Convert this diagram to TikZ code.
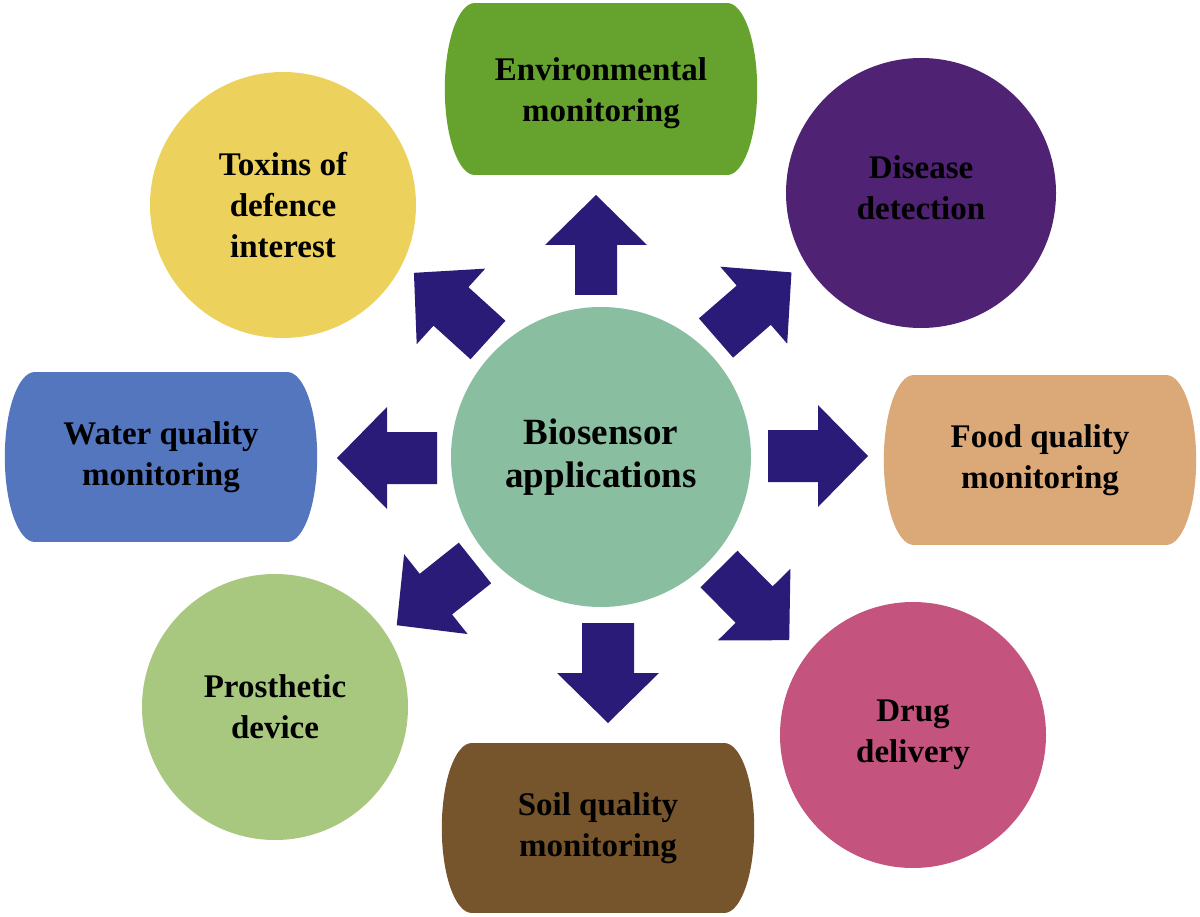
\documentclass[tikz,border=0pt]{standalone}
\usepackage{fontspec}
\setmainfont{Liberation Serif}
\definecolor{arrowc}{RGB}{43,27,120}
\definecolor{envc}{RGB}{102,163,46}
\definecolor{disc}{RGB}{79,34,115}
\definecolor{toxc}{RGB}{236,210,92}
\definecolor{watc}{RGB}{84,118,190}
\definecolor{foodc}{RGB}{219,168,120}
\definecolor{cenc}{RGB}{138,190,160}
\definecolor{proc}{RGB}{168,200,128}
\definecolor{soilc}{RGB}{118,84,44}
\definecolor{drugc}{RGB}{196,84,126}
\pgfdeclarelayer{bglayer}
\pgfsetlayers{bglayer,main}
\begin{document}
\begin{tikzpicture}[x=1pt,y=-1pt,
  lbl/.style={font=\fontsize{33}{41}\selectfont\bfseries, align=center, text=black},
  circ/.style={circle, inner sep=0pt, minimum size=#1, lbl},
  capbody/.style={rectangle, inner sep=0pt, minimum width=252pt, minimum height=#1, lbl},
  barrow/.style={fill=arrowc}]
\useasboundingbox (0,0) rectangle (1200,917);

% circles
\node[circ=300pt, fill=cenc, font=\fontsize{37}{43}\selectfont\bfseries] (bio) at (601,457) {Biosensor\\applications};
\node[circ=266pt, fill=toxc] (tox) at (283,205) {Toxins of\\defence\\interest};
\node[circ=270pt, fill=disc] (dis) at (921,193) {};
\node[lbl] (dist) at (921,188) {Disease\\detection};
\node[circ=266pt, fill=drugc] (drug) at (913,735) {Drug\\delivery};
\node[circ=266pt, fill=proc] (pros) at (275,707) {Prosthetic\\device};

% capsules
\node[capbody=172pt, fill=envc] (env) at (601,89) {};
\node[lbl] (envt) at (601,93) {Environmental\\monitoring};
\node[capbody=170pt, fill=watc] (wat) at (161,457) {Water quality\\monitoring};
\node[capbody=170pt, fill=foodc] (food) at (1040,460) {Food quality\\monitoring};
\node[capbody=170pt, fill=soilc] (soil) at (598,828) {Soil quality\\monitoring};

\begin{pgfonlayer}{bglayer}
\fill[envc] (env.west) ellipse [x radius=30pt, y radius=86pt];
\fill[envc] (env.east) ellipse [x radius=30pt, y radius=86pt];
\fill[watc] (wat.west) ellipse [x radius=30pt, y radius=85pt];
\fill[watc] (wat.east) ellipse [x radius=30pt, y radius=85pt];
\fill[foodc] (food.west) ellipse [x radius=30pt, y radius=85pt];
\fill[foodc] (food.east) ellipse [x radius=30pt, y radius=85pt];
\fill[soilc] (soil.west) ellipse [x radius=30pt, y radius=85pt];
\fill[soilc] (soil.east) ellipse [x radius=30pt, y radius=85pt];
\end{pgfonlayer}

% arrow tails
\coordinate (aU) at (596,295);
\coordinate (aD) at (608,623);
\coordinate (aL) at (437,458);
\coordinate (aR) at (768,456);
\coordinate (aNE) at (716,338);
\coordinate (aNW) at (488,340);
\coordinate (aSW) at (475,563);
\coordinate (aSE) at (719,569);

\fill[barrow, shift={(aU)}, rotate=90] (0,-21) -- (50,-21) -- (50,-51) -- (100,0) -- (50,51) -- (50,21) -- (0,21) -- cycle;
\foreach \c/\a in {aD/270, aL/180, aR/0, aNE/41, aNW/137.8, aSW/218.5, aSE/314.6}{
  \fill[barrow, shift={(\c)}, rotate=\a] (0,-26) -- (50,-26) -- (50,-51) -- (100,0) -- (50,51) -- (50,26) -- (0,26) -- cycle;
}
\end{tikzpicture}
\end{document}
